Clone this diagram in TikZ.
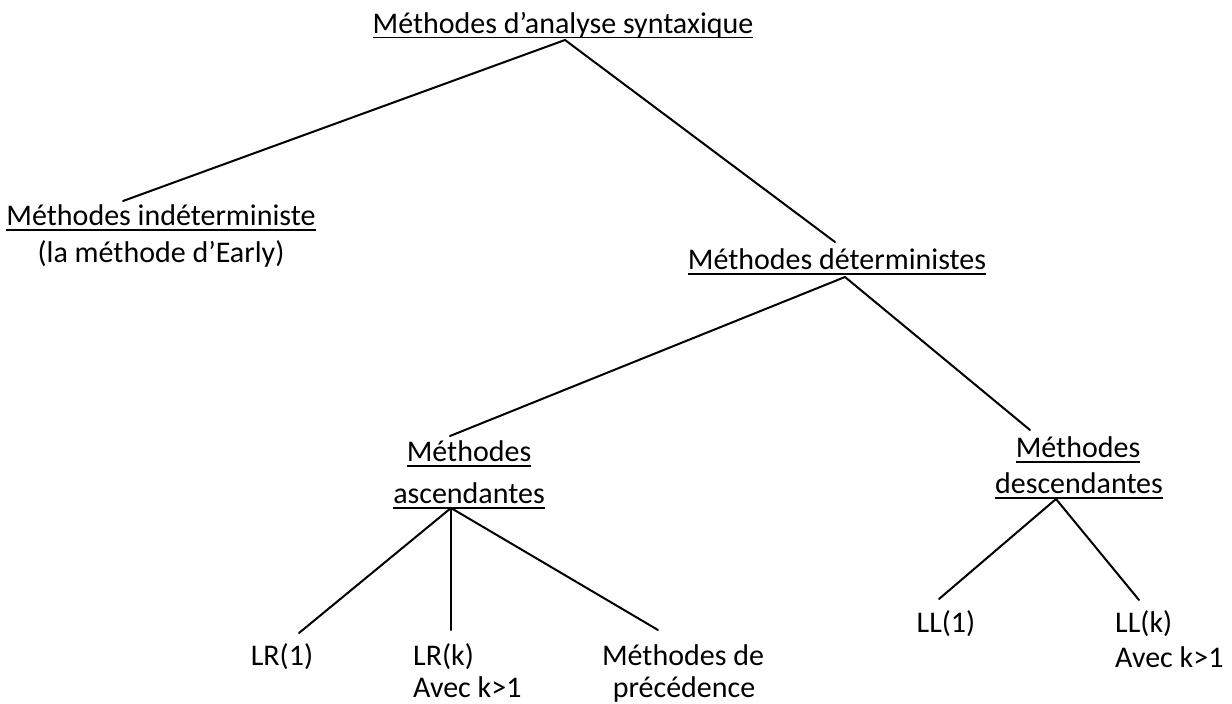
\documentclass[tikz,border=0pt]{standalone}
\usepackage{fontspec}
\setmainfont{Carlito}
% underlined word: rule drawn under the text box
\newcommand\ulword[1]{\setbox0\hbox{#1}\rlap{\rule[-5.5pt]{\wd0}{2pt}}\box0}
\begin{document}
\begin{tikzpicture}[x=1pt,y=-1pt,
  lbl/.style={inner sep=0pt,anchor=base,font=\fontsize{30}{36}\selectfont},
  lblw/.style={lbl,anchor=base west},
  link/.style={line width=2pt,line cap=round}]
\useasboundingbox (0,0) rectangle (1232,704);

% labels
\node[lbl] (root) at (563,33) {\ulword{Méthodes d’analyse syntaxique}};
\node[lbl] (indet) at (161,225) {\ulword{Méthodes indéterministe}};
\node[lbl] (early) at (161,262) {(la méthode d’Early)};
\node[lbl] (det) at (837,269) {\ulword{Méthodes déterministes}};
\node[lbl] (asc1) at (469,461) {\ulword{Méthodes}};
\node[lbl] (asc2) at (469,503) {\ulword{ascendantes}};
\node[lbl] (desc1) at (1078,457) {\ulword{Méthodes}};
\node[lbl] (desc2) at (1079,493) {\ulword{descendantes}};
\node[lbl] (lr1) at (282,665) {LR(1)};
\node[lblw] (lrk) at (413,665) {LR(k)};
\node[lblw] (lrk2) at (413,697) {Avec k>1};
\node[lbl] (prec1) at (683,665) {Méthodes de};
\node[lbl] (prec2) at (684,697) {précédence};
\node[lbl] (ll1) at (946,632) {LL(1)};
\node[lblw] (llk) at (1115,632) {LL(k)};
\node[lblw] (llk2) at (1115,667) {Avec k>1};

% branch points and line ends
\coordinate (rootJ) at (565,40);
\coordinate (indetE) at (123,201);
\coordinate (detE) at (835,242);
\coordinate (detJ) at (845,277);
\coordinate (ascE) at (450,436);
\coordinate (descE) at (1030,430);
\coordinate (ascJ) at (451,508);
\coordinate (lr1E) at (299,633);
\coordinate (lrkE) at (451,630);
\coordinate (precE) at (658,630);
\coordinate (descJ) at (1056,499);
\coordinate (ll1E) at (939,599);
\coordinate (llkE) at (1139,600);

% tree edges
\draw[link] (rootJ) -- (indetE);
\draw[link] (rootJ) -- (detE);
\draw[link] (detJ) -- (ascE);
\draw[link] (detJ) -- (descE);
\draw[link] (ascJ) -- (lr1E);
\draw[link] (ascJ) -- (lrkE);
\draw[link] (ascJ) -- (precE);
\draw[link] (descJ) -- (ll1E);
\draw[link] (descJ) -- (llkE);
\end{tikzpicture}
\end{document}
